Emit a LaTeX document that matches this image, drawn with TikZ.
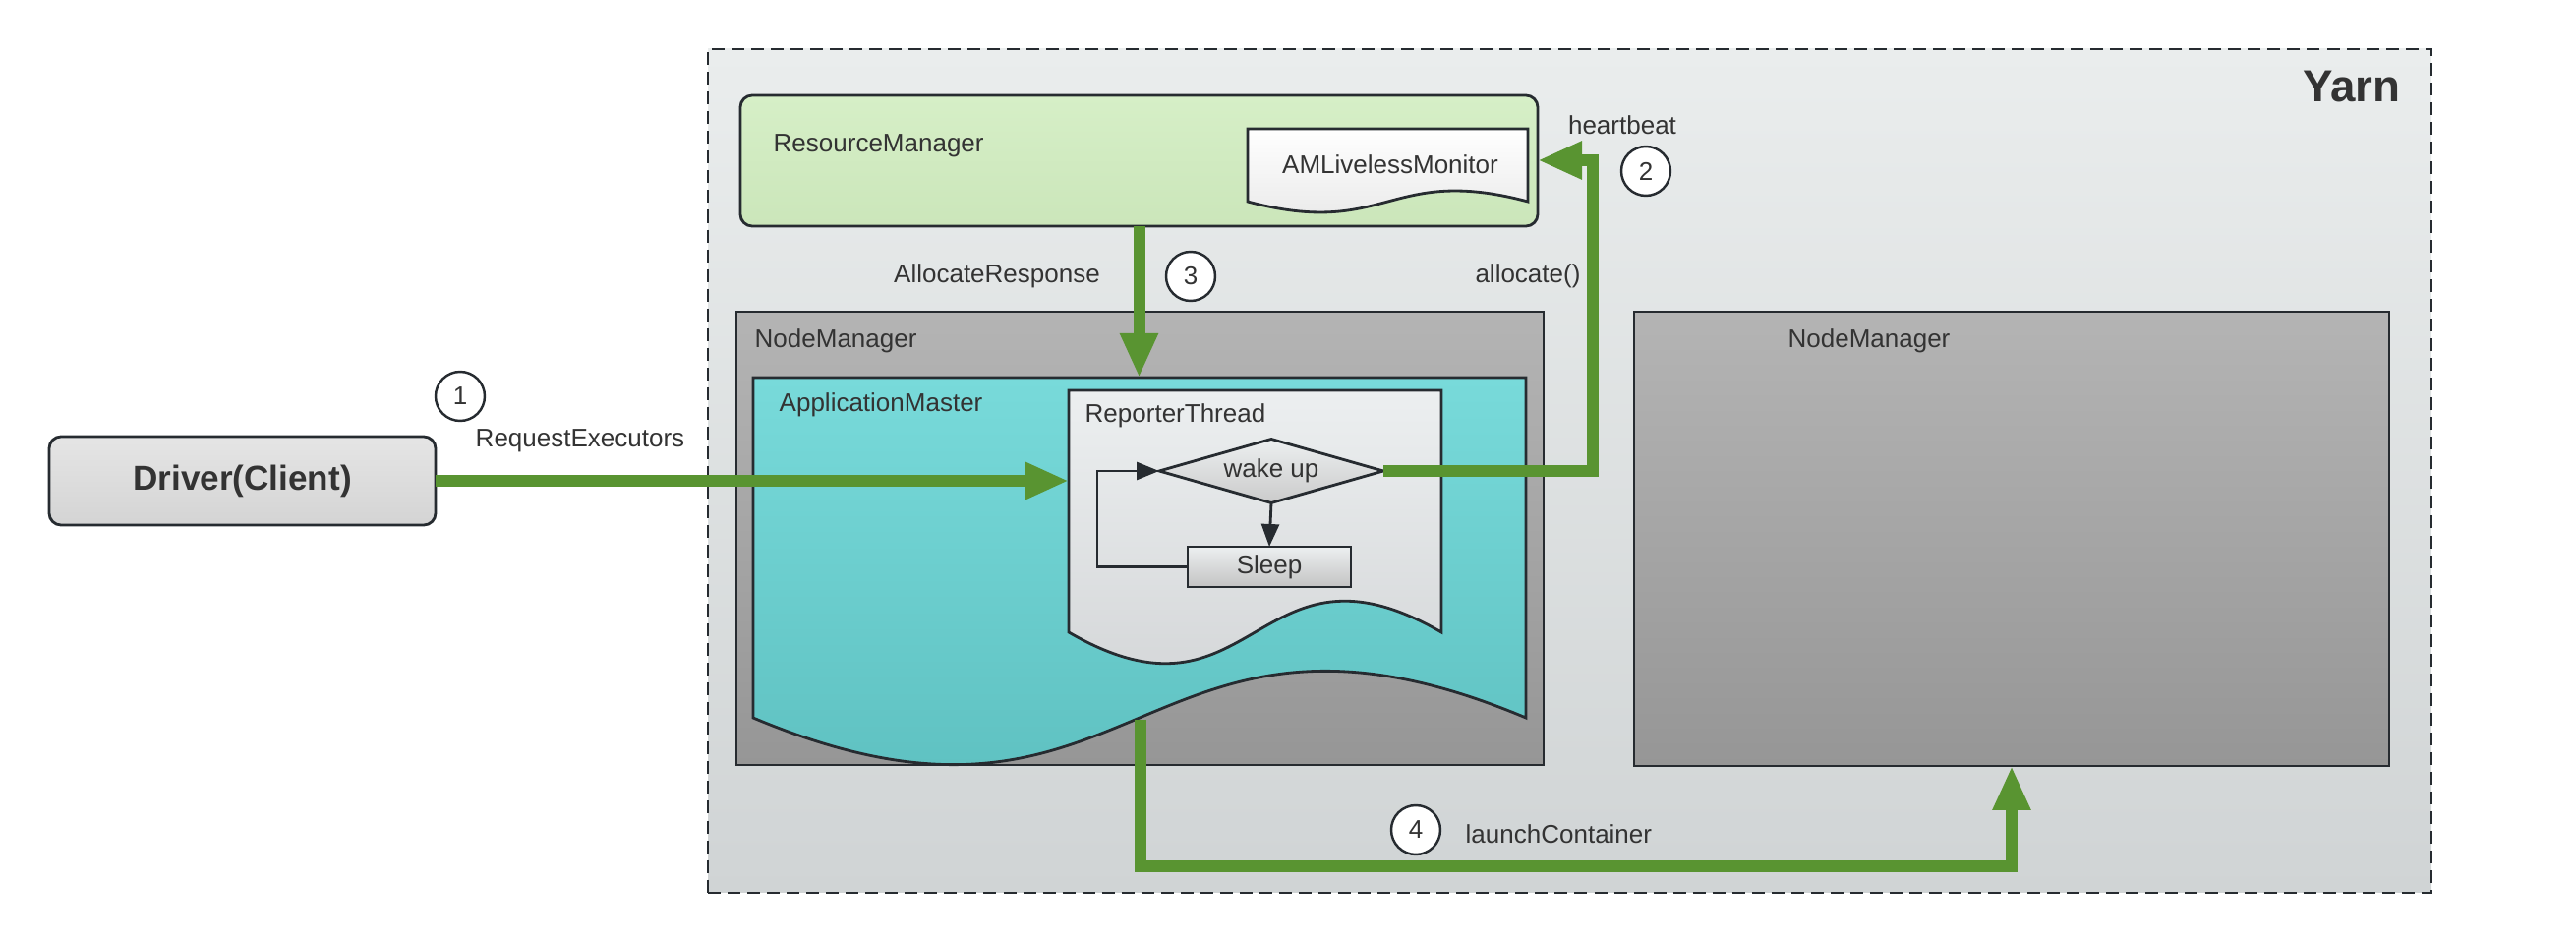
\documentclass[tikz,border=0pt]{standalone}
\usepackage{fontspec}
\setmainfont{Liberation Sans}
\usetikzlibrary{arrows.meta,shapes.geometric}
\definecolor{flowgreen}{RGB}{89,148,49}
\definecolor{edge}{RGB}{38,43,48}
\definecolor{ink}{RGB}{51,51,51}
\definecolor{yarnTop}{RGB}{234,237,237}
\definecolor{yarnBot}{RGB}{208,212,213}
\definecolor{rmTop}{RGB}{214,239,199}
\definecolor{rmBot}{RGB}{203,230,186}
\definecolor{nmTop}{RGB}{180,180,180}
\definecolor{nmBot}{RGB}{150,150,150}
\definecolor{amTop}{RGB}{120,218,218}
\definecolor{amBot}{RGB}{88,187,187}
\definecolor{rtTop}{RGB}{236,239,240}
\definecolor{rtBot}{RGB}{208,210,212}
\definecolor{drvTop}{RGB}{229,229,229}
\definecolor{drvBot}{RGB}{212,212,212}
\def\docshape[#1](#2,#3)(#4,#5)(#6){\draw[#1] (#2,#3) -- (#4,#3) -- (#4,#5) .. controls ({(#2+#4)/2},{#5-#6}) and ({(#2+#4)/2},{#5+#6}) .. (#2,#5) -- cycle;}
\tikzset{
  txt/.style={text=ink, font=\fontsize{7.4}{9}\selectfont, inner sep=0pt},
  box/.style={draw=edge, line width=0.8pt, inner sep=0pt, outer sep=0pt},
  flow/.style={draw=flowgreen, line width=1.2mm, -{Triangle[length=4.5mm,width=3.6mm]}},
  thinarrow/.style={draw=edge, line width=0.8pt, -{Triangle[length=2.3mm,width=1.8mm]}},
  numcircle/.style={circle, draw=edge, line width=0.7pt, fill=white, minimum size=5mm, inner sep=0pt, txt},
}
\begin{document}
\begin{tikzpicture}[x=0.1mm, y=-0.1mm]
		%%%%% START %%%%%
		\useasboundingbox (0,0) rectangle (2620,958);
		
		\node[box, dashed, dash pattern=on 3.7pt off 2pt, top color=yarnTop, bottom color=yarnBot, minimum width=175.3mm, minimum height=85.8mm] (yarn) at (1596.5,479) {};
		\node[txt, font=\bfseries\fontsize{13}{15}\selectfont] (yarnlabel) at (2392,88) {Yarn};
		
		\node[box, rounded corners=1.2mm, top color=rmTop, bottom color=rmBot, minimum width=81.1mm, minimum height=13.3mm] (rm) at (1158.5,163.5) {};
		\node[txt, anchor=west] (rmlabel) at (786,148) {ResourceManager};
		\docshape[box, top color=white, bottom color=drvBot!60](1269,131)(1554,205)(38);
		\node[txt] (monitor) at (1414,167) {AMLivelessMonitor};
		
		\node[box, top color=nmTop, bottom color=nmBot, minimum width=82.1mm, minimum height=46.1mm] (nm1) at (1159.5,547.5) {};
		\node[txt, anchor=west] (nm1label) at (767,347) {NodeManager};
		\node[box, top color=nmTop, bottom color=nmBot, minimum width=76.8mm, minimum height=46.2mm] (nm2) at (2046,548) {};
		\node[txt] (nm2label) at (1901,347) {NodeManager};
		
		\docshape[box, top color=amTop, bottom color=amBot](766,384)(1552,730)(165);
		\node[txt, anchor=west] (amlabel) at (792,412) {ApplicationMaster};
		\docshape[box, top color=rtTop, bottom color=rtBot](1087,397)(1466,643)(110);
		\node[txt, anchor=west] (rtlabel) at (1103,423) {ReporterThread};
		
		\node[box, diamond, aspect=3.5, top color=rtTop, bottom color=nmTop!70, minimum width=22.8mm, minimum height=6.5mm, txt] (wake) at (1293,479) {wake up};
		\node[box, top color=rtTop, bottom color=nmTop!80, minimum width=16.6mm, minimum height=4.1mm, txt] (sleep) at (1291,576.5) {Sleep};
		\coordinate (lp) at (1116,479);
		\draw[thinarrow] (wake.south) -- (sleep.north);
		\draw[thinarrow] (sleep.west) -| (lp) -- (wake.west);
		
		\node[box, rounded corners=1.2mm, top color=drvTop, bottom color=drvBot, minimum width=39.3mm, minimum height=9mm, text=ink, font=\bfseries\fontsize{10}{12}\selectfont] (driver) at (246.5,489) {Driver(Client)};
		
		% green flows
		\coordinate (rtin) at (1087,489);
		\coordinate (amtop) at (1159,384);
		\coordinate (amout) at (1160,732);
		\coordinate (hb) at (1620,163);
		\coordinate (lc) at (1160,881);
		\draw[flow] (driver.east) -- (rtin);
		\draw[flow] (wake.east) -| (hb) -- (rm.east |- hb);
		\draw[flow] (rm.south) -- (rm.south |- amtop);
		\draw[flow] (amout) -- (lc) -| (nm2.south);
		
		\node[numcircle] (n1) at (468,403) {1};
		\node[txt] (reqlabel) at (590,448) {RequestExecutors};
		\node[numcircle] (n2) at (1674,174) {2};
		\node[txt] (hblabel) at (1650,127) {heartbeat};
		\node[txt] (alloclabel) at (1554,281) {allocate()};
		\node[numcircle] (n3) at (1211,281) {3};
		\node[txt] (resplabel) at (1014,281) {AllocateResponse};
		\node[numcircle] (n4) at (1440,844) {4};
		\node[txt, anchor=west] (lclabel) at (1490,848) {launchContainer};
		
		%%%%% END %%%%%
	\end{tikzpicture}
\end{document}
